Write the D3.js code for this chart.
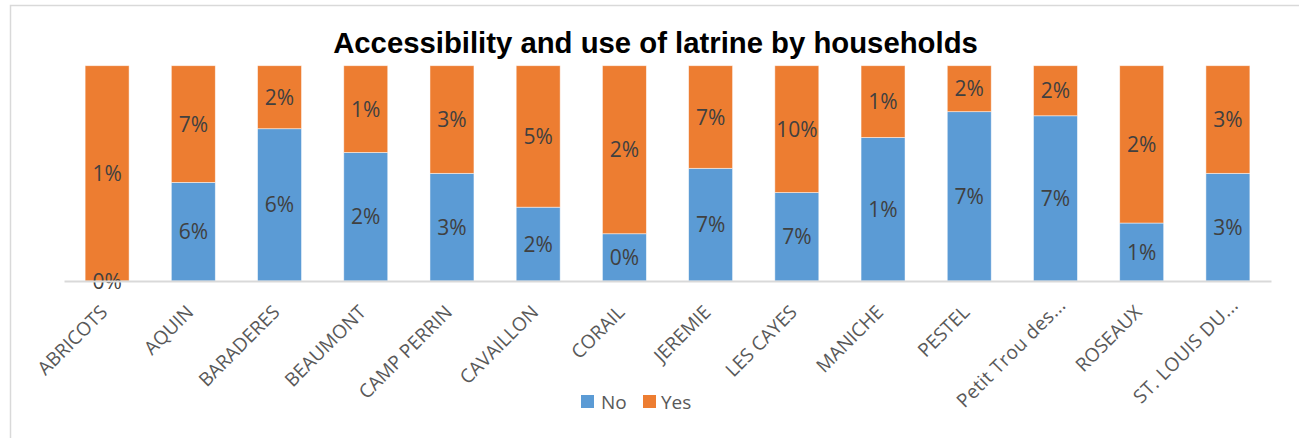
<!DOCTYPE html>
<html>
<head>
<meta charset="utf-8">
<script src="https://cdn.jsdelivr.net/npm/d3@7"></script>
<style>
  html, body { margin: 0; padding: 0; background: #fff; }
  svg { display: block; }
</style>
</head>
<body>
<svg id="chart" width="1299" height="438"></svg>
<script>
// ---- data ----
const categories = ["ABRICOTS", "AQUIN", "BARADERES", "BEAUMONT", "CAMP PERRIN", "CAVAILLON", "CORAIL",
  "JEREMIE", "LES CAYES", "MANICHE", "PESTEL", "Petit Trou des...", "ROSEAUX", "ST. LOUIS DU..."];
const seriesNames = ["No", "Yes"];
const noValues  = [0.0, 6.0, 5.8, 2.0, 3.0, 2.4, 0.45, 7.3, 6.9, 1.4, 7.0, 6.6, 0.7, 3.0];
const yesValues = [1.0, 7.1, 2.4, 1.35, 3.0, 4.6, 1.6, 6.65, 9.9, 0.7, 1.9, 2.0, 1.9, 3.0];
const title = "Accessibility and use of latrine by households";

// ---- layout ----
const svg = d3.select("#chart");
const W = 1299, H = 438;
const colors = { No: "#5B9BD5", Yes: "#ED7D31" };
const plot = { left: 64, right: 1271, top: 65.7, bottom: 281 };

// chart border
svg.append("rect")
  .attr("x", 10.5).attr("y", 5.5)
  .attr("width", W + 10).attr("height", H + 10)
  .attr("fill", "#fff").attr("stroke", "#D9D9D9").attr("stroke-width", 1.5);

// title
svg.append("text")
  .attr("x", 655.5).attr("y", 53)
  .attr("text-anchor", "middle")
  .attr("font-family", "'Liberation Sans', Arial, sans-serif")
  .attr("font-weight", "bold")
  .attr("font-size", 29.3)
  .attr("fill", "#000")
  .text(title);

const rows = categories.map((c, i) => ({ cat: c, No: noValues[i], Yes: yesValues[i] }));
const stack = d3.stack().keys(seriesNames).offset(d3.stackOffsetExpand);
const stacked = stack(rows);

const x = d3.scaleBand().domain(categories).range([plot.left, plot.right]).paddingInner(0.49).paddingOuter(0.245);
const y = d3.scaleLinear().domain([0, 1]).range([plot.bottom, plot.top]);

const g = svg.append("g");
stacked.forEach(layer => {
  g.selectAll(null).data(layer).enter().append("rect")
    .attr("x", d => x(d.data.cat))
    .attr("width", x.bandwidth())
    .attr("y", d => y(d[1]))
    .attr("height", d => Math.max(0, y(d[0]) - y(d[1])))
    .attr("fill", colors[layer.key])
    .attr("stroke", "#fff").attr("stroke-opacity", 0.6).attr("stroke-width", 0.8);
});

// axis line
const xAxis = d3.axisBottom(x).tickSize(0).tickFormat("");
const axG = svg.append("g").attr("transform", `translate(0,${plot.bottom})`).call(xAxis);
axG.select(".domain").attr("stroke", "#D9D9D9").attr("stroke-width", 2);

// data labels
const fmt = d3.format(".0%");
stacked.forEach(layer => {
  g.selectAll(null).data(layer).enter().append("text")
    .attr("x", d => x(d.data.cat) + x.bandwidth() / 2)
    .attr("y", d => (y(d[0]) + y(d[1])) / 2)
    .attr("dy", "0.36em")
    .attr("text-anchor", "middle")
    .attr("font-family", "'Open Sans', sans-serif")
    .attr("font-size", 21)
    .attr("fill", "#404040")
    .text(d => fmt(d.data[layer.key] / 100));
});

// category labels (truncated ones sit a little further along in the reference)
svg.append("g").selectAll("text").data(categories).enter().append("text")
  .attr("transform", d => {
    const trunc = d.endsWith("...");
    const cx = x(d) + x.bandwidth() / 2 - 8 + (trunc ? 10 : 0);
    const cy = plot.bottom + 23 - (trunc ? 7 : 0);
    return `translate(${cx},${cy}) rotate(-45)`;
  })
  .attr("text-anchor", "end")
  .attr("dy", "0.7em")
  .attr("letter-spacing", d => d.endsWith("...") ? 0.4 : 0)
  .attr("font-family", "'Open Sans', sans-serif")
  .attr("font-size", 19)
  .attr("fill", "#595959")
  .text(d => d);

// legend
const legend = svg.append("g");
const legendItems = [
  { key: "No", sx: 581, tx: 601 },
  { key: "Yes", sx: 643, tx: 661 }
];
legendItems.forEach(it => {
  legend.append("rect").attr("x", it.sx).attr("y", 395).attr("width", 13).attr("height", 13).attr("fill", colors[it.key]);
  legend.append("text").attr("x", it.tx).attr("y", 408.5)
    .attr("font-family", "'Open Sans', sans-serif").attr("font-size", 19).attr("fill", "#595959")
    .text(it.key);
});
</script>
</body>
</html>
